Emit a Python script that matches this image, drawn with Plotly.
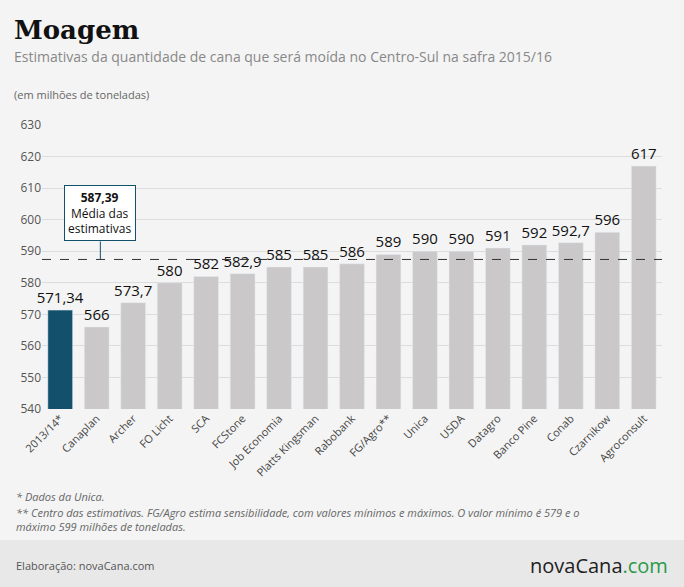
import plotly.graph_objects as go

cats = ["2013/14*", "Canaplan", "Archer", "FO Licht", "SCA", "FCStone", "Job Economia",
        "Platts Kingsman", "Rabobank", "FG/Agro**", "Unica", "USDA", "Datagro",
        "Banco Pine", "Conab", "Czarnikow", "Agroconsult"]
vals = [571.34, 566, 573.7, 580, 582, 582.9, 585, 585, 586, 589, 590, 590, 591, 592, 592.7, 596, 617]
labels = ["571,34", "566", "573,7", "580", "582", "582,9", "585", "585", "586", "589", "590",
          "590", "591", "592", "592,7", "596", "617"]
mean_val = 587.39
yticks = [540, 550, 560, 570, 580, 590, 600, 610, 620, 630]

colors = ["#12506b"] + ["#cac8c8"] * (len(cats) - 1)

fig = go.Figure(go.Bar(x=cats, y=vals, marker_color=colors, width=0.68,
                       text=labels, textposition="outside", cliponaxis=False,
                       constraintext="none",
                       textfont=dict(family="Open Sans", size=15, color="#111")))

W, H = 684, 587
T, B, L, R = 125, 178, 42, 22
fig.update_layout(
    width=W, height=H, paper_bgcolor="#f4f4f4", plot_bgcolor="#f4f4f4",
    margin=dict(l=L, r=R, t=T, b=B), showlegend=False,
    font=dict(family="Open Sans", color="#555"),
    xaxis=dict(tickangle=-45, tickfont=dict(size=11, color="#444"), showline=False, ticks=""),
    yaxis=dict(range=[540, 630], tickvals=yticks, gridcolor="#dcdcdc", zeroline=False,
               tickfont=dict(size=12, color="#555"), ticks=""),
)
ph = H - T - B
pw = W - L - R
def py(pix):
    return (H - B - pix) / ph
def px(p):
    return (p - L) / pw

fig.add_shape(type="rect", xref="paper", yref="paper", x0=px(-5), x1=px(700), y0=py(540), y1=py(600),
              line_width=0, fillcolor="#e8e8e8", layer="below")
fig.add_hline(y=mean_val, line=dict(color="#333", width=1, dash="dash"), layer="above")
fig.add_annotation(x=1.1, y=mean_val, xref="x", yref="y", ax=0, ay=-18,
                   text="<b>587,39</b><br>Média das<br>estimativas", showarrow=True,
                   arrowhead=0, arrowcolor="#12506b", arrowwidth=1,
                   bordercolor="#12506b", borderwidth=1, bgcolor="#fff", borderpad=3,
                   font=dict(size=12, color="#111"), yanchor="bottom")

def txt(t, x, y, size, color, family="Open Sans", italic=False, xanchor="left"):
    fig.add_annotation(text=("<i>%s</i>" % t) if italic else t, x=x, y=py(y), xref="paper", yref="paper",
                       xanchor=xanchor, yanchor="middle", showarrow=False,
                       font=dict(size=size, color=color, family=family))

txt("<b>Moagem</b>", px(12), 30, 26, "#111", family="DejaVu Serif")
txt("Estimativas da quantidade de cana que será moída no Centro-Sul na safra 2015/16", px(12), 56, 14, "#888")
txt("(em milhões de toneladas)", px(12), 94, 11, "#666")
txt("* Dados da Unica.", px(14), 496, 11, "#666", italic=True)
txt("** Centro das estimativas. FG/Agro estima sensibilidade, com valores mínimos e máximos. O valor mínimo é 579 e o",
    px(14), 512, 11, "#666", italic=True)
txt("máximo 599 milhões de toneladas.", px(14), 526, 11, "#666", italic=True)
txt("Elaboração: novaCana.com", px(14), 565, 11, "#555")
txt("novaCana<span style='color:#2a9a4a'>.com</span>", px(670), 565, 20, "#222", xanchor="right")

fig.write_html("out.html", config={"displayModeBar": False},
               post_script="document.body.style.margin='0';")
